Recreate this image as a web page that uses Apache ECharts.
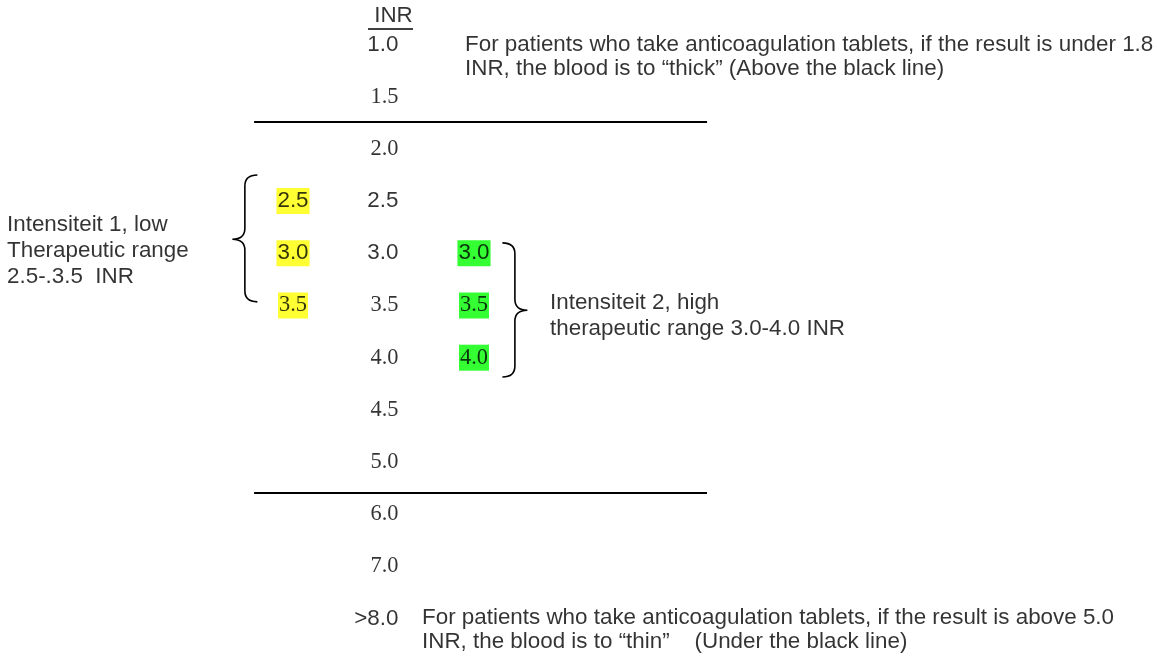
<!DOCTYPE html>
<html>
<head>
<meta charset="utf-8">
<title>INR</title>
<script src="https://cdn.jsdelivr.net/npm/echarts@6/dist/echarts.min.js"></script>
<style>
  html, body { margin: 0; padding: 0; background: #fff; }
  #main { width: 1157px; height: 656px; }
</style>
</head>
<body>
<div id="main"></div>
<script>
// INR scale, top to bottom
const inrRows = ['1.0', '1.5', '2.0', '2.5', '3.0', '3.5', '4.0', '4.5', '5.0', '6.0', '7.0', '>8.0']
// these ones are set in the serif face in the original
const serifRows = ['1.5', '2.0', '3.5', '4.0', '4.5', '5.0', '6.0', '7.0']
// intensiteit 1 (low) and intensiteit 2 (high)
const lowRange = ['2.5', '3.0', '3.5']
const highRange = ['3.0', '3.5', '4.0']
// black lines lie between rows (1.5|2.0 and 5.0|6.0)
const limitRows = [1.485, 8.58]

const noteTop = 'For patients who take anticoagulation tablets, if the result is under 1.8\nINR, the blood is to \u201cthick\u201d (Above the black line)'
const noteBottom = 'For patients who take anticoagulation tablets, if the result is above 5.0\nINR, the blood is to \u201cthin\u201d    (Under the black line)'
const noteLow = 'Intensiteit 1, low\nTherapeutic range\n2.5-.3.5  INR'
const noteHigh = 'Intensiteit 2, high\ntherapeutic range 3.0-4.0 INR'

const SANS = '"Liberation Sans", Arial, Helvetica, sans-serif'
const SERIF = '"Liberation Serif", "Times New Roman", serif'
const FONT_SIZE = 22.4
const face = (t) => (serifRows.indexOf(t) >= 0 ? SERIF : SANS)
const rowOf = (t) => inrRows.indexOf(t)

// columns: 0 = low range, 1 = INR, 2 = high range
const textItem = (x, y, text, label) => ({
  value: [x, y],
  label: Object.assign({ formatter: text }, label),
})

const textSeries = (name, data) => ({
  type: 'scatter',
  name: name,
  symbolSize: 0,
  silent: true,
  clip: false,
  data: data,
  label: {
    show: true,
    position: 'inside',
    color: '#000',
    fontSize: FONT_SIZE,
    fontFamily: SANS,
    verticalAlign: 'middle',
  },
})

const rangeItem = (col, color) => (t) =>
  textItem(col, rowOf(t), t, {
    fontFamily: face(t),
    align: 'center',
    backgroundColor: color,
    lineHeight: 26,
    padding: [0, 1],
  })

// brace: tip x, top row, bottom row, tip row, direction (-1 points left, 1 points right)
const braces = [
  [-0.67, 2.5, 4.93, 3.73, -1],
  [2.59, 3.8, 6.37, 5.09, 1],
]

var myChart = echarts.init(document.getElementById('main'))

var option = {
  animation: false,
  grid: { left: 0, right: 0, top: 0, bottom: 0 },
  xAxis: { type: 'value', min: -3.2376, max: 9.547, show: false },
  yAxis: { type: 'value', inverse: true, min: -0.8525, max: 11.7146, show: false },
  series: [
    textSeries(
      'INR',
      inrRows.map((t, i) =>
        textItem(1, i, t, { fontFamily: face(t), align: 'right', offset: [15, 0] })
      ).concat([textItem(1, 0, ' INR', { align: 'left', offset: [-15.5, -28.5] })])
    ),
    textSeries('low', lowRange.map(rangeItem(0, '#ffff00'))),
    textSeries('high', highRange.map(rangeItem(2, '#00ff00'))),
    textSeries('notes', [
      textItem(2, 0, noteTop, { align: 'left', lineHeight: 24, offset: [-9, 12.5] }),
      textItem(1, 11, noteBottom, { align: 'left', lineHeight: 24, offset: [38.5, 11.5] }),
      textItem(0, 4, noteLow, { align: 'left', lineHeight: 26, offset: [-286, -2] }),
      textItem(2, 5, noteHigh, { align: 'left', lineHeight: 26, offset: [76, 10.5] }),
    ]),
    {
      type: 'scatter',
      name: 'lines',
      symbolSize: 0,
      silent: true,
      data: [],
      markLine: {
        silent: true,
        symbol: 'none',
        animation: false,
        label: { show: false },
        lineStyle: { color: '#000', width: 2, type: 'solid' },
        data: limitRows
          .map((r) => [{ coord: [-0.43, r] }, { coord: [4.575, r] }])
          .concat([[{ coord: [0.829, -0.31], lineStyle: { width: 1.5 } }, { coord: [1.326, -0.31] }]]),
      },
    },
    {
      type: 'custom',
      name: 'braces',
      silent: true,
      clip: false,
      data: braces,
      renderItem: function (params, api) {
        const tip = api.coord([api.value(0), api.value(3)])
        const y0 = api.coord([api.value(0), api.value(1)])[1]
        const y1 = api.coord([api.value(0), api.value(2)])[1]
        const dir = api.value(4)
        const tx = tip[0]
        const ty = tip[1]
        const ex = tx - dir * 25
        const mx = tx - dir * 12.5
        const r = 11
        const d =
          'M' + ex + ' ' + y0 +
          ' Q' + mx + ' ' + y0 + ' ' + mx + ' ' + (y0 + r) +
          ' L' + mx + ' ' + (ty - r) +
          ' Q' + mx + ' ' + ty + ' ' + tx + ' ' + ty +
          ' Q' + mx + ' ' + ty + ' ' + mx + ' ' + (ty + r) +
          ' L' + mx + ' ' + (y1 - r) +
          ' Q' + mx + ' ' + y1 + ' ' + ex + ' ' + y1
        return {
          type: 'path',
          shape: { pathData: d },
          style: { fill: 'none', stroke: '#000', lineWidth: 1.6 },
        }
      },
    },
  ],
}

myChart.setOption(option)
window.onresize = function () {
  myChart.resize()
}
</script>
</body>
</html>
